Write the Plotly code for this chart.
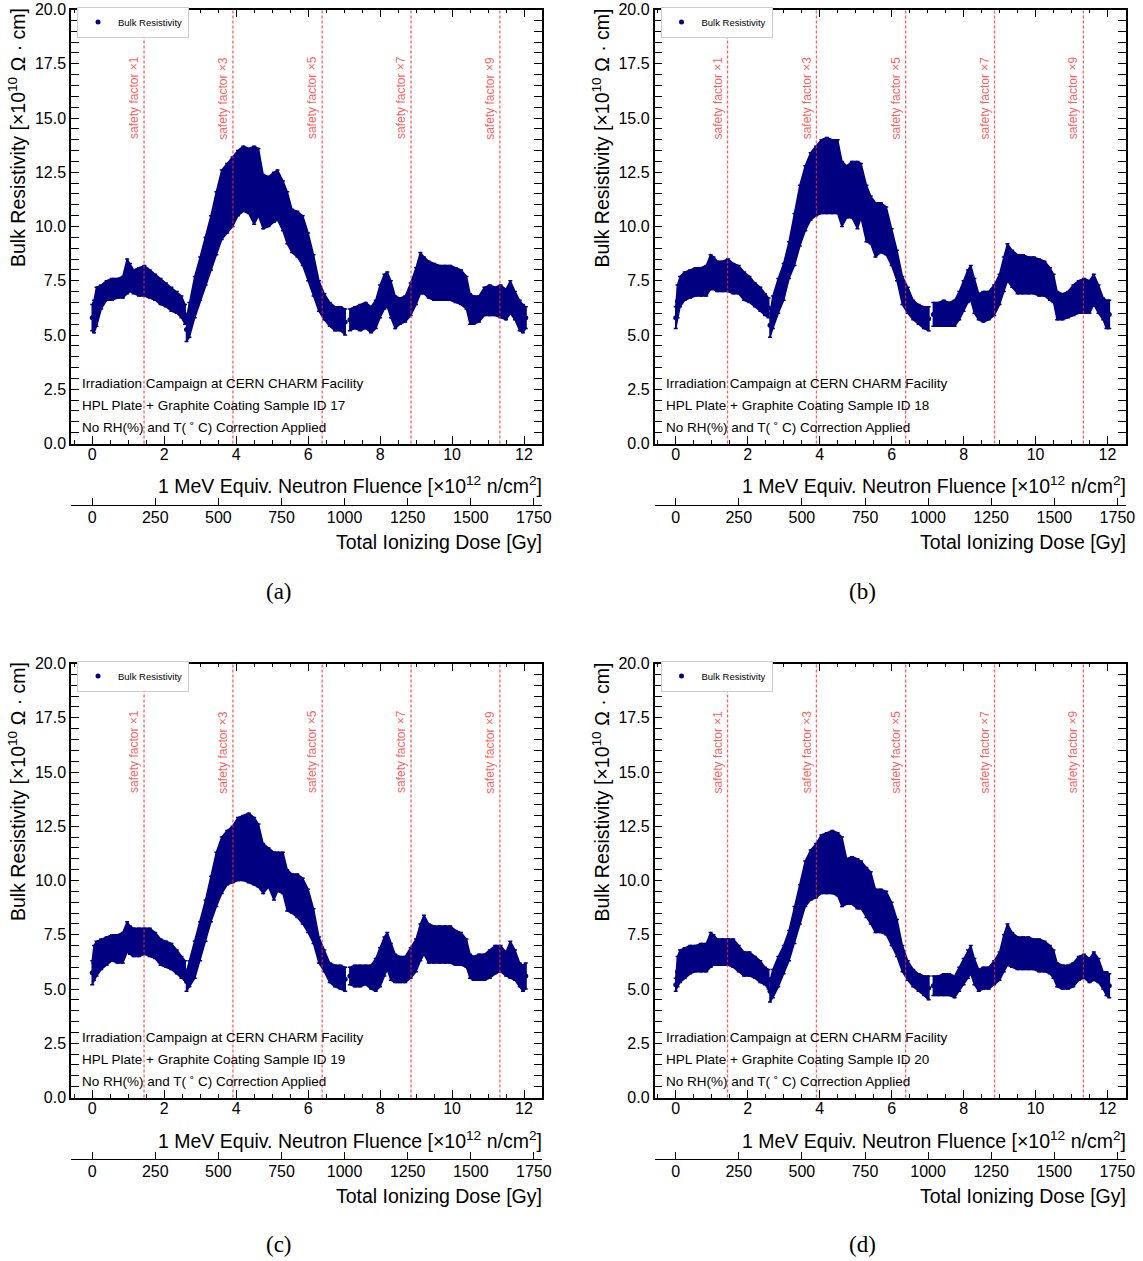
import plotly.graph_objects as go

# ---------------- data ----------------
FLUENCE = [0.00, 0.05, 0.12, 0.25, 0.40, 0.55, 0.70, 0.85, 0.97, 1.05, 1.15, 1.30, 1.45, 1.60, 1.75,
           1.90, 2.05, 2.20, 2.35, 2.48, 2.58, None,
           2.62, 2.70, 2.85, 3.00, 3.15, 3.30, 3.45, 3.60, 3.75, 3.90, 4.05, 4.20, 4.35, 4.50, 4.62,
           4.75, 4.90, 5.05, 5.15, 5.30, 5.42, 5.55, 5.70, 5.85, 6.00, 6.15, 6.30, 6.45, 6.60, 6.75,
           6.90, 7.03, None,
           7.16, 7.30, 7.45, 7.60, 7.75, 7.88, 8.00, 8.12, 8.20, 8.30, 8.42, 8.55, 8.70, 8.85, 9.00,
           9.12, 9.22, 9.35, 9.50, 9.65, 9.80, 9.95, 10.10, 10.25, 10.40, 10.50, 10.60, 10.75, 10.90,
           11.05, 11.20, 11.35, 11.50, 11.62, 11.75, 11.88, 11.97, 12.05]

LOW_A = [5.2, 5.1, 5.4, 6.2, 6.6, 6.6, 6.7, 6.7, 6.9, 7.0, 6.9, 6.8, 6.8, 6.7, 6.6, 6.4, 6.3, 6.1, 6.0, 5.8, 5.5, None,
         4.7, 4.9, 5.8, 6.6, 7.3, 8.0, 8.7, 9.4, 9.7, 10.0, 10.5, 10.7, 10.6, 10.1, 10.5, 9.9, 10.0, 10.2, 10.3, 9.8,
         9.2, 8.8, 8.6, 8.2, 7.5, 6.8, 6.1, 5.7, 5.4, 5.2, 5.2, 5.0, None,
         5.2, 5.3, 5.2, 5.3, 5.1, 5.3, 5.8, 6.2, 6.3, 5.8, 5.3, 5.5, 5.6, 5.9, 6.4, 6.9, 6.9, 6.7, 6.6, 6.6,
         6.6, 6.6, 6.5, 6.4, 6.2, 5.5, 5.5, 5.6, 5.9, 5.9, 5.9, 5.8, 5.7, 6.0, 5.7, 5.2, 5.1, 5.3]
HIGH_A = [6.4, 6.6, 7.2, 7.3, 7.5, 7.6, 7.6, 7.7, 8.5, 8.3, 8.0, 8.1, 8.2, 8.0, 7.8, 7.6, 7.4, 7.2, 7.0, 6.8, 6.4, None,
          5.8, 6.5, 7.7, 8.6, 9.5, 10.5, 11.6, 12.6, 12.9, 13.2, 13.5, 13.7, 13.6, 13.7, 13.6, 12.4, 12.3, 12.5, 12.6, 12.1,
          11.6, 10.8, 10.7, 10.5, 9.7, 8.7, 7.5, 6.9, 6.5, 6.3, 6.3, 6.2, None,
          6.2, 6.3, 6.4, 6.5, 6.3, 6.6, 7.3, 7.8, 7.9, 7.5, 6.8, 6.7, 6.8, 7.4, 8.1, 8.8, 8.6, 8.4, 8.3, 8.2,
          8.2, 8.2, 8.1, 8.0, 7.7, 6.9, 6.8, 6.8, 7.2, 7.3, 7.2, 7.3, 7.1, 7.5, 7.0, 6.6, 6.4, 6.3]

LOW_B = [5.3, 5.8, 6.3, 6.6, 6.7, 6.8, 6.8, 6.8, 7.1, 7.1, 7.0, 7.0, 7.0, 6.9, 6.9, 6.6, 6.5, 6.3, 6.1, 5.9, 5.8, None,
         4.9, 5.3, 6.0, 6.6, 7.6, 8.2, 9.1, 9.8, 10.3, 10.5, 10.6, 10.6, 10.6, 10.6, 10.0, 10.4, 10.4, 9.9, 10.4, 9.3,
         9.2, 8.6, 8.8, 8.7, 8.2, 7.5, 6.4, 6.0, 5.7, 5.5, 5.3, 5.2, None,
         5.4, 5.4, 5.4, 5.4, 5.4, 5.7, 6.1, 6.5, 6.6, 6.0, 5.7, 5.6, 5.7, 5.9, 6.4, 7.0, 7.5, 7.2, 6.9, 6.9,
         6.9, 6.9, 6.8, 6.8, 6.6, 6.5, 5.7, 5.7, 5.8, 5.9, 6.0, 6.0, 6.0, 6.4, 6.0, 5.7, 5.3, 5.3]
HIGH_B = [6.3, 7.3, 7.7, 7.9, 8.0, 8.1, 8.1, 8.2, 8.7, 8.6, 8.4, 8.4, 8.5, 8.3, 8.2, 7.9, 7.7, 7.4, 7.2, 6.9, 6.7, None,
          6.0, 6.8, 7.6, 8.3, 9.3, 10.6, 11.9, 12.8, 13.4, 13.7, 14.0, 14.1, 14.0, 14.0, 13.0, 12.8, 13.0, 13.0, 12.9, 11.9,
          11.4, 11.1, 11.1, 10.9, 9.9, 8.9, 7.7, 7.2, 6.6, 6.4, 6.3, 6.3, None,
          6.5, 6.5, 6.6, 6.5, 6.6, 7.0, 7.5, 8.0, 8.2, 7.6, 6.9, 7.0, 7.0, 7.3, 7.8, 8.6, 9.2, 8.9, 8.7, 8.7,
          8.6, 8.6, 8.5, 8.4, 8.1, 7.8, 7.0, 6.9, 7.0, 7.3, 7.5, 7.6, 7.5, 7.8, 7.3, 6.7, 6.6, 6.6]

LOW_C = [5.2, 5.4, 5.6, 5.9, 6.1, 6.3, 6.2, 6.2, 6.7, 6.6, 6.5, 6.5, 6.6, 6.5, 6.4, 6.1, 6.0, 5.9, 5.7, 5.5, 5.4, None,
         4.9, 5.1, 5.5, 6.3, 7.2, 8.1, 8.8, 9.4, 9.8, 9.9, 10.0, 10.0, 9.9, 9.8, 9.7, 9.4, 9.7, 9.1, 9.5, 9.4,
         8.6, 8.5, 8.3, 8.0, 7.6, 7.1, 6.2, 5.8, 5.3, 5.1, 5.0, 4.9, None,
         5.2, 5.1, 5.1, 5.2, 5.0, 4.9, 5.1, 5.6, 5.9, 5.4, 5.3, 5.3, 5.3, 5.5, 5.8, 6.3, 6.6, 6.2, 6.2, 6.2,
         6.2, 6.2, 6.1, 6.1, 6.0, 5.5, 5.4, 5.4, 5.4, 5.5, 5.7, 5.8, 5.6, 5.5, 5.4, 5.1, 4.9, 5.0]
HIGH_C = [6.3, 7.0, 7.2, 7.3, 7.4, 7.5, 7.5, 7.6, 8.1, 7.9, 7.8, 7.8, 7.8, 7.8, 7.6, 7.3, 7.2, 7.1, 6.8, 6.5, 6.3, None,
          5.8, 6.3, 7.2, 8.1, 9.1, 10.2, 11.3, 12.0, 12.3, 12.5, 12.9, 13.0, 13.1, 12.9, 12.6, 11.7, 11.5, 11.3, 11.3, 11.3,
          10.5, 10.3, 10.3, 10.1, 9.6, 8.7, 7.4, 6.8, 6.2, 6.1, 6.1, 6.0, None,
          6.0, 6.1, 6.1, 6.1, 6.1, 6.4, 6.9, 7.4, 7.6, 7.1, 6.6, 6.5, 6.5, 6.9, 7.3, 8.0, 8.4, 8.0, 7.9, 7.9,
          7.9, 7.9, 7.7, 7.6, 7.3, 6.6, 6.5, 6.6, 6.6, 6.8, 7.0, 7.0, 6.7, 7.2, 6.8, 6.2, 6.1, 6.2]

LOW_D = [4.9, 5.1, 5.3, 5.5, 5.7, 5.8, 5.8, 5.8, 6.0, 6.1, 6.1, 6.1, 6.1, 6.0, 5.8, 5.6, 5.6, 5.5, 5.3, 5.2, 5.0, None,
         4.4, 4.6, 5.1, 5.7, 6.3, 7.1, 8.0, 8.8, 9.1, 9.2, 9.4, 9.4, 9.4, 9.3, 8.8, 8.9, 8.9, 8.7, 8.7, 8.3,
         8.0, 7.6, 7.6, 7.5, 7.0, 6.5, 5.8, 5.4, 5.1, 4.9, 4.7, 4.5, None,
         4.7, 4.7, 4.7, 4.7, 4.6, 4.9, 5.2, 5.5, 5.7, 5.2, 4.9, 5.0, 5.0, 5.2, 5.4, 5.8, 6.1, 6.0, 5.9, 5.9,
         5.9, 5.9, 5.8, 5.8, 5.7, 5.5, 5.1, 5.0, 5.0, 5.1, 5.4, 5.5, 5.3, 5.4, 5.3, 5.0, 4.7, 4.6]
HIGH_D = [5.5, 6.5, 6.8, 6.9, 7.0, 7.0, 7.1, 7.1, 7.6, 7.5, 7.3, 7.3, 7.3, 7.3, 7.0, 6.7, 6.7, 6.5, 6.3, 6.0, 5.9, None,
          5.4, 5.9, 6.5, 7.0, 7.7, 8.8, 9.8, 10.9, 11.4, 11.7, 12.1, 12.2, 12.3, 12.2, 12.0, 11.0, 11.1, 11.0, 10.9, 10.6,
          10.4, 9.6, 9.6, 9.5, 9.0, 8.2, 7.0, 6.3, 5.9, 5.7, 5.6, 5.6, None,
          5.6, 5.6, 5.7, 5.7, 5.6, 6.0, 6.4, 6.8, 7.0, 6.4, 5.9, 6.0, 6.0, 6.3, 6.7, 7.5, 8.0, 7.6, 7.4, 7.4,
          7.4, 7.3, 7.3, 7.2, 7.0, 6.8, 6.2, 6.1, 6.1, 6.2, 6.5, 6.6, 6.4, 6.7, 6.4, 5.8, 5.8, 5.7]

SAMPLE_IDS = ["17", "18", "19", "20"]
CAPTIONS = ["(a)", "(b)", "(c)", "(d)"]
SAFETY_FLUENCE = [1.44, 3.91, 6.39, 8.86, 11.33]
SAFETY_LABELS = ["safety factor \u00d71", "safety factor \u00d73", "safety factor \u00d75",
                 "safety factor \u00d77", "safety factor \u00d79"]
DOSE_TICKS = [0, 250, 500, 750, 1000, 1250, 1500, 1750]
Y_TICKS = [0.0, 2.5, 5.0, 7.5, 10.0, 12.5, 15.0, 17.5, 20.0]
INFO_LINES = ["Irradiation Campaign at CERN CHARM Facility",
              "HPL Plate + Graphite Coating Sample ID {}",
              "No RH(%) and T( \u02da C) Correction Applied"]

# ---------------- layout geometry ----------------
W, H = 1143, 1261
XDOM = [[71 / W, 542 / W], [654.5 / W, 1125.5 / W]]
YDOM = [[1 - 443.5 / H, 1 - 9.5 / H], [1 - 1097.5 / H, 1 - 663.5 / H]]
DOSE_POS = [1 - 505 / H, 1 - 1159 / H]
NAVY = "#000080"
RED = "rgba(255,40,40,0.75)"
FONT = "Liberation Sans"


def split_segments(xs, lo, hi):
    segs, cur = [], ([], [], [])
    for x, a, b in zip(xs, lo, hi):
        if x is None:
            if cur[0]:
                segs.append(cur)
            cur = ([], [], [])
        else:
            cur[0].append(x); cur[1].append(a); cur[2].append(b)
    if cur[0]:
        segs.append(cur)
    return segs


fig = go.Figure()
panels = [(LOW_A, HIGH_A), (LOW_B, HIGH_B), (LOW_C, HIGH_C), (LOW_D, HIGH_D)]
annotations, shapes = [], []
layout_axes = {}

for i, (lo, hi) in enumerate(panels):
    col, row = i % 2, i // 2
    n = i + 1
    xname = "x" if n == 1 else f"x{n}"
    yname = "y" if n == 1 else f"y{n}"
    legname = "legend" if n == 1 else f"legend{n}"

    segs = split_segments(FLUENCE, lo, hi)
    for xs, a, b in segs:
        fig.add_trace(go.Scatter(
            x=xs + xs[::-1], y=b + a[::-1], fill="toself", fillcolor=NAVY,
            mode="lines", line=dict(color=NAVY, width=1.5), hoverinfo="skip",
            showlegend=False, xaxis=xname, yaxis=yname))
    cx, cy, ce = [], [], []
    for xs, a, b in segs:
        for x, l, h in zip(xs, a, b):
            cx.append(x); cy.append((l + h) / 2); ce.append((h - l) / 2)
    fig.add_trace(go.Scatter(
        x=cx, y=cy, mode="markers", name="Bulk Resistivity",
        marker=dict(color=NAVY, size=5),
        error_y=dict(type="data", array=ce, color=NAVY, thickness=1.5, width=2),
        xaxis=xname, yaxis=yname, legend=legname, showlegend=True))
    # empty trace so that the secondary (dose) axis is registered and drawn
    fig.add_trace(go.Scatter(x=[], y=[], xaxis=f"x{n + 4}", yaxis=yname,
                             showlegend=False, hoverinfo="skip"))

    layout_axes[f"xaxis{n}"] = dict(
        domain=XDOM[col], anchor=yname, range=[-0.59, 12.5], dtick=2, tick0=0, automargin=False,
        ticks="inside", ticklen=8, tickwidth=1.2, tickcolor="black", ticklabelstandoff=-4,
        minor=dict(dtick=0.5, ticks="inside", ticklen=4, tickcolor="black", tickwidth=1),
        mirror="allticks", showline=True, linecolor="black", linewidth=1.5,
        showgrid=False, zeroline=False, tickfont=dict(size=16, color="black", family=FONT))
    layout_axes[f"yaxis{n}"] = dict(
        domain=YDOM[row], anchor=xname, range=[0, 20], tickvals=Y_TICKS, tickformat=".1f",
        automargin=False,
        ticks="inside", ticklen=8, tickwidth=1.2, tickcolor="black",
        minor=dict(dtick=0.5, ticks="inside", ticklen=4, tickcolor="black", tickwidth=1),
        mirror="allticks", showline=True, linecolor="black", linewidth=1.5,
        showgrid=False, zeroline=False, tickfont=dict(size=16, color="black", family=FONT))
    layout_axes[f"xaxis{n + 4}"] = dict(
        overlaying=xname, anchor="free", position=DOSE_POS[row], side="bottom", automargin=False,
        range=[-84, 1782], tickvals=DOSE_TICKS, ticks="inside", ticklen=7, tickwidth=1.3,
        tickcolor="black", showline=True, linecolor="black", linewidth=1.2, ticklabelstandoff=-2,
        showgrid=False, zeroline=False, tickfont=dict(size=16, color="black", family=FONT))

    # legend
    layout_axes[legname] = dict(
        x=XDOM[col][0] + 6 / W, y=YDOM[row][1] + 3 / H, xanchor="left", yanchor="top",
        bgcolor="white", bordercolor="#cccccc", borderwidth=1,
        font=dict(size=9.5, color="black", family=FONT), itemwidth=30, tracegroupgap=0)

    # safety factor lines + labels
    for sx, lab in zip(SAFETY_FLUENCE, SAFETY_LABELS):
        shapes.append(dict(type="line", xref=xname, yref=f"{yname} domain", x0=sx, x1=sx, y0=0, y1=1,
                           line=dict(color=RED, width=1.3, dash="3px,2px"), layer="above"))
        annotations.append(dict(xref=xname, yref=yname, x=sx, y=17.93, text=lab, textangle=-90,
                                xanchor="right", yanchor="top", showarrow=False, xshift=-1,
                                font=dict(size=12, color=RED, family=FONT)))

    # info text
    for k, line in enumerate(INFO_LINES):
        annotations.append(dict(xref=f"{xname} domain", yref=f"{yname} domain",
                                x=9 / 471, y=(60.5 - 22 * k) / 434,
                                text=line.format(SAMPLE_IDS[i]), xanchor="left", yanchor="middle",
                                showarrow=False, font=dict(size=13.5, color="black", family=FONT)))

    # axis titles
    top_px = 9.5 + 654 * row
    left_px = [71, 654.5][col]
    right_px = [542, 1125.5][col]
    annotations.append(dict(xref="paper", yref="paper", x=(right_px + 2) / W, y=1 - (top_px + 476) / H,
                            text="1 MeV Equiv. Neutron Fluence [\u00d710<sup>12</sup> n/cm<sup>2</sup>]",
                            xanchor="right", yanchor="middle", showarrow=False,
                            font=dict(size=19.5, color="black", family=FONT)))
    annotations.append(dict(xref="paper", yref="paper", x=(right_px + 2) / W, y=1 - (top_px + 532) / H,
                            text="Total Ionizing Dose [Gy]",
                            xanchor="right", yanchor="middle", showarrow=False,
                            font=dict(size=19.5, color="black", family=FONT)))
    annotations.append(dict(xref="paper", yref="paper", x=(left_px - 54) / W, y=1 - (top_px - 3) / H,
                            text="Bulk Resistivity [\u00d710<sup>10</sup> \u03a9 \u00b7 cm]", textangle=-90,
                            xanchor="center", yanchor="top", showarrow=False,
                            font=dict(size=19.5, color="black", family=FONT)))
    # caption
    annotations.append(dict(xref="paper", yref="paper", x=[279, 862][col] / W, y=1 - (591 + 653 * row) / H,
                            text=CAPTIONS[i], xanchor="center", yanchor="middle", showarrow=False,
                            font=dict(size=23, color="black", family="Liberation Serif")))

fig.update_layout(
    width=W, height=H, margin=dict(l=0, r=0, t=0, b=0, autoexpand=False),
    paper_bgcolor="white", plot_bgcolor="white",
    font=dict(family=FONT, color="black"),
    annotations=annotations, shapes=shapes, **layout_axes)

fig.write_html("out.html")
